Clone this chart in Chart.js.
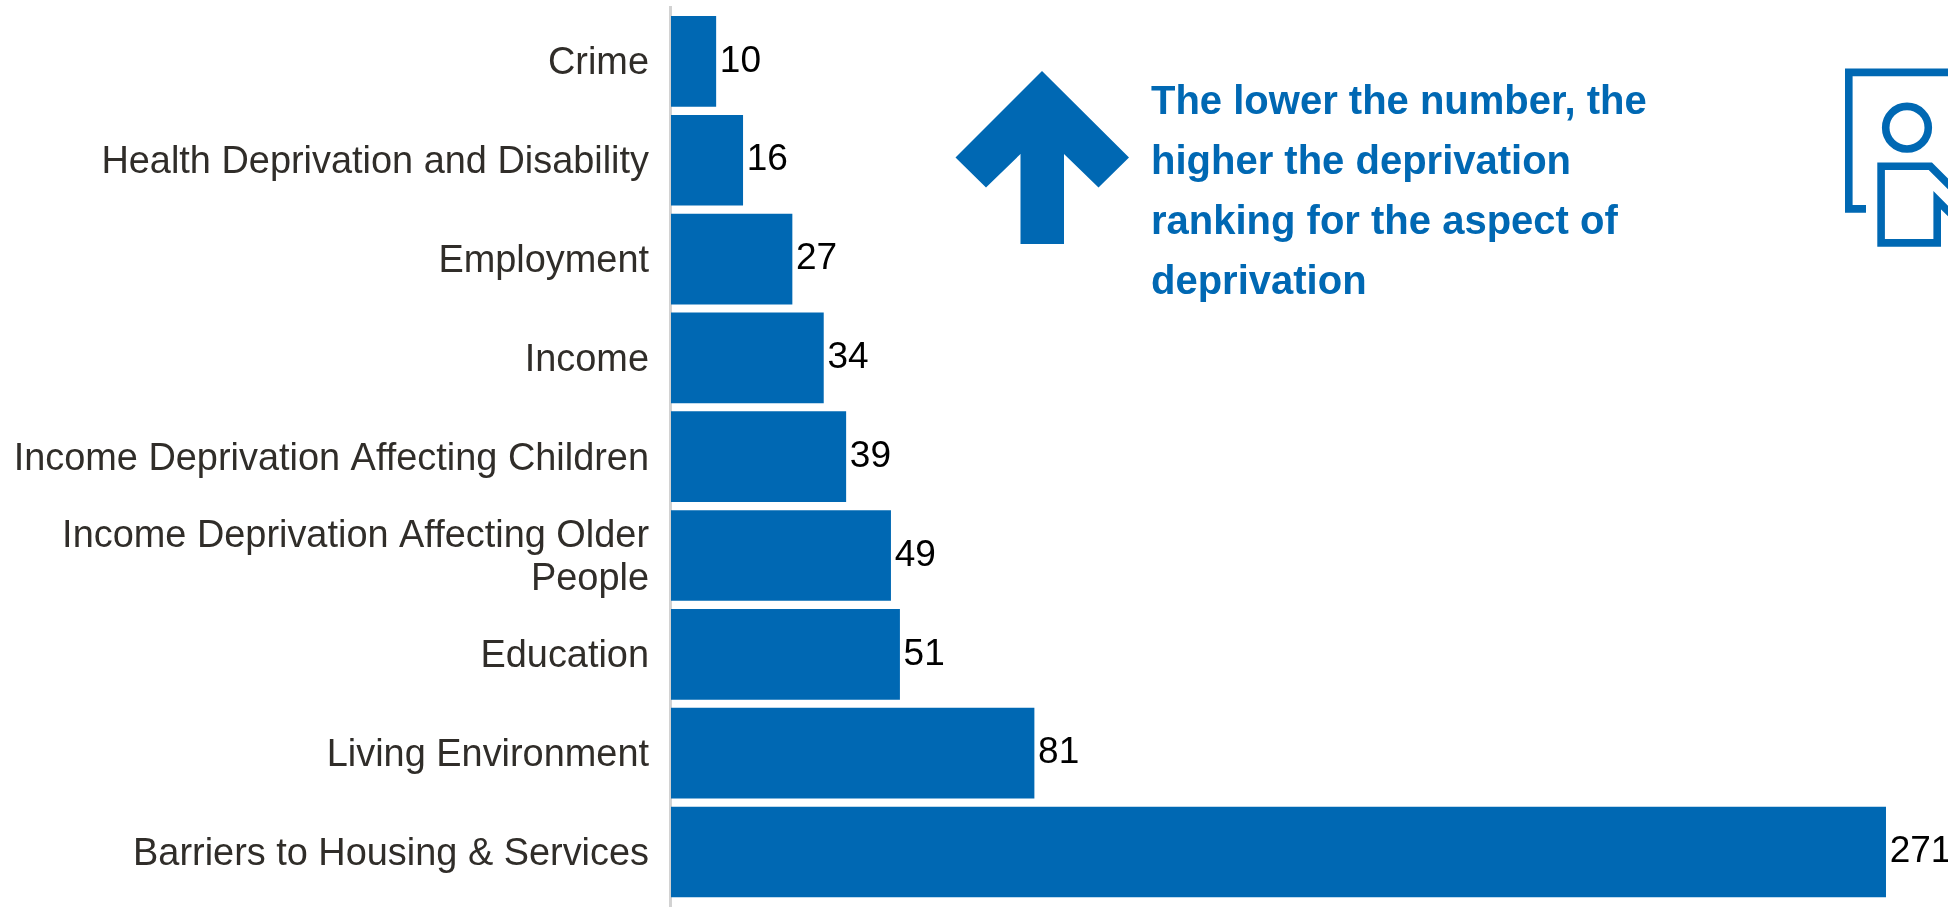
<!DOCTYPE html>
<html>
<head>
<meta charset="utf-8">
<title>Deprivation rankings</title>
<script src="https://cdn.jsdelivr.net/npm/chart.js@4/dist/chart.umd.min.js"></script>
<style>
  html, body { margin: 0; padding: 0; background: #fff; overflow: hidden; }
  #wrap { position: relative; width: 1948px; height: 907px; overflow: hidden; }
  #chart { position: absolute; left: 0; top: 0; }
  #note {
    position: absolute; left: 1151px; top: 70px; width: 600px;
    font: bold 40px/60px "Liberation Sans", Arial, sans-serif; color: #0068b3;
  }
  #art { position: absolute; left: 0; top: 0; pointer-events: none; }
</style>
</head>
<body>
<div id="wrap">
  <canvas id="chart" width="1948" height="907"></canvas>
  <svg id="art" width="1948" height="907" viewBox="0 0 1948 907">
    <!-- up arrow -->
    <polygon fill="#0068b3" points="1042,71 1129,157.5 1098.5,187.5 1064,154 1064,244 1020.5,244 1020.5,154 986,187.5 955.5,157.5"/>
    <!-- person icon, runs off the right edge -->
    <g fill="none" stroke="#0068b3" stroke-width="7.6" stroke-miterlimit="10">
      <path d="M1866,208.9 H1848.8 V72.4 H1960"/>
      <circle cx="1907" cy="127.7" r="21.3"/>
      <path d="M1970,206 L1930.4,166.2 H1881.1 V242.9 H1937.2 V200.2 L1970,233"/>
    </g>
  </svg>
  <div id="note">The lower the number, the<br>higher the deprivation<br>ranking for the aspect of<br>deprivation</div>
</div>
<script>
const categories = [
  'Crime',
  'Health Deprivation and Disability',
  'Employment',
  'Income',
  'Income Deprivation Affecting Children',
  ['Income Deprivation Affecting Older', 'People'],
  'Education',
  'Living Environment',
  'Barriers to Housing & Services'
];
const ranks = [10, 16, 27, 34, 39, 49, 51, 81, 271];

const BLUE = '#0068b3';

// grey axis rule, taller than the plot area
const axisRule = {
  id: 'axisRule',
  beforeDatasetsDraw(chart) {
    const c = chart.ctx;
    c.save();
    c.fillStyle = '#d2d2d2';
    c.fillRect(669, 6, 3, 901);
    c.restore();
  }
};

// value next to the end of each bar
const barValues = {
  id: 'barValues',
  afterDatasetsDraw(chart) {
    const c = chart.ctx;
    c.save();
    c.font = '37px "Liberation Sans", Arial, sans-serif';
    c.fillStyle = '#000';
    c.textAlign = 'left';
    c.textBaseline = 'middle';
    chart.getDatasetMeta(0).data.forEach((bar, i) => {
      c.fillText(String(ranks[i]), bar.x + 4, bar.y);
    });
    c.restore();
  }
};

new Chart(document.getElementById('chart').getContext('2d'), {
  type: 'bar',
  data: {
    labels: categories,
    datasets: [{
      data: ranks,
      backgroundColor: BLUE,
      barThickness: 90
    }]
  },
  options: {
    indexAxis: 'y',
    responsive: false,
    animation: false,
    layout: { padding: { top: 12, bottom: 5.6, right: 22 } },
    plugins: { legend: { display: false }, tooltip: { enabled: false } },
    scales: {
      x: { display: false, min: 0, max: 280 },
      y: {
        grid: { display: false },
        border: { display: false },
        afterFit(scale) {
          // fixed gutter, and no extra room for the first and last labels
          scale.width = 671;
          scale.paddingTop = 0;
          scale.paddingBottom = 0;
        },
        ticks: {
          padding: 14,
          color: '#302d29',
          autoSkip: false,
          // labels sit a touch below the bar centre
          labelOffset: 2.5,
          font: { family: '"Liberation Sans", Arial, sans-serif', size: 37.9, lineHeight: 1.12 }
        }
      }
    }
  },
  plugins: [axisRule, barValues]
});
</script>
</body>
</html>
